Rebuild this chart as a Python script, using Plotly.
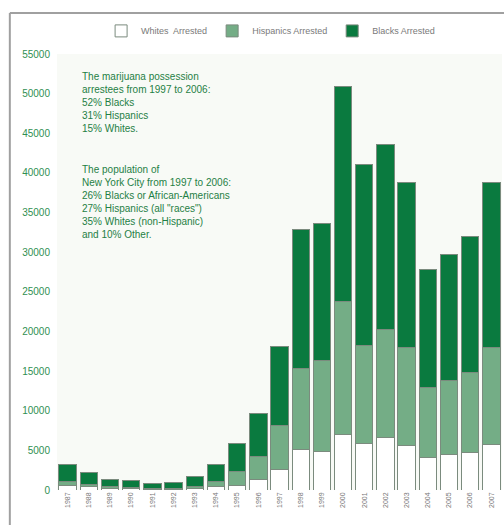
import plotly.graph_objects as go

# Marijuana possession arrests in NYC by race, 1987-2007
years = [str(y) for y in range(1987, 2008)]
whites = [600, 400, 200, 150, 100, 100, 200, 500, 600, 1350, 2530, 5050, 4840,
          7030, 5900, 6650, 5600, 4140, 4420, 4740, 5720]
hispanics = [500, 300, 200, 150, 100, 120, 220, 550, 1710, 2850, 5640, 10320, 11490,
             16710, 12380, 13560, 12370, 8740, 9410, 10040, 12280]
blacks = [2180, 1490, 950, 840, 650, 750, 1260, 2230, 3590, 5400, 9930, 17470, 17270,
          27120, 22770, 23360, 20840, 14910, 15940, 17140, 20840]
y_ticks = list(range(0, 55001, 5000))

note1 = ("The marijuana possession<br>arrestees from 1997 to 2006:<br>"
         "52% Blacks<br>31% Hispanics<br>15% Whites.")
note2 = ("The population of<br>New York City from 1997 to 2006:<br>"
         "26% Blacks or African-Americans<br>27% Hispanics (all \"races\")<br>"
         "35% Whites (non-Hispanic)<br>and 10% Other.")

line = dict(color="#7b8b7e", width=1)
fig = go.Figure()
fig.add_trace(go.Bar(x=years, y=whites, name="Whites  Arrested",
                     marker=dict(color="#ffffff", line=line)))
fig.add_trace(go.Bar(x=years, y=hispanics, name="Hispanics Arrested",
                     marker=dict(color="#74ad86", line=line)))
fig.add_trace(go.Bar(x=years, y=blacks, name="Blacks Arrested",
                     marker=dict(color="#0a7a3f", line=line)))

fig.update_layout(
    width=504, height=525,
    margin=dict(l=57, r=2, t=54, b=35),
    barmode="stack", bargap=0.18,
    paper_bgcolor="white", plot_bgcolor="#f8faf6",
    font=dict(family="Liberation Sans, Arial, sans-serif"),
    showlegend=True,
    legend=dict(orientation="h", traceorder="normal", x=0.48, xanchor="center",
                y=1.053, yanchor="middle", font=dict(size=9, color="#7a7a7a"),
                itemwidth=30, bgcolor="rgba(0,0,0,0)"),
)
fig.update_xaxes(type="category", range=[-0.5, 20.5], tickangle=-90,
                 tickfont=dict(size=7, color="#777777"), showgrid=False,
                 ticks="", showline=False)
fig.update_yaxes(range=[0, 55000], tickvals=y_ticks, ticktext=[str(v) for v in y_ticks],
                 tickfont=dict(size=10, color="#2f8f52"), showgrid=False,
                 zeroline=False, ticks="", ticklabelstandoff=6)

fig.add_annotation(text=note1, xref="paper", yref="paper", x=0.052, y=0.965,
                   xanchor="left", yanchor="top", align="left", showarrow=False,
                   font=dict(size=10, color="#1f7f45"))
fig.add_annotation(text=note2, xref="paper", yref="paper", x=0.052, y=0.752,
                   xanchor="left", yanchor="top", align="left", showarrow=False,
                   font=dict(size=10, color="#1f7f45"))

# outer frame of the figure
fig.add_shape(type="line", xref="paper", yref="paper", x0=-0.106, x1=1.01, y0=1.094, y1=1.094,
              line=dict(color="#a0a0a0", width=2))
fig.add_shape(type="line", xref="paper", yref="paper", x0=-0.106, x1=-0.106, y0=1.094, y1=-0.09,
              line=dict(color="#a0a0a0", width=2))

# drop the default 8px body margin so the figure sits at the page origin
fig.write_html("out.html", config={"displayModeBar": False},
               post_script="document.body.style.margin = '0';")
